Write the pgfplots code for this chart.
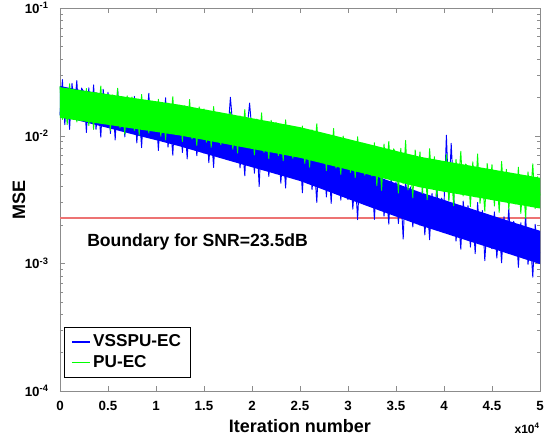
\documentclass[border=0pt]{standalone}
\usepackage{fontspec}
\setmainfont{Liberation Sans}
\usepackage{pgfplots}
\pgfplotsset{compat=1.18}
\usepackage{pgfplotstable}
\definecolor{mblue}{rgb}{0,0,1}
\definecolor{mgreen}{rgb}{0,1,0}
\definecolor{mpink}{rgb}{0.93,0.45,0.45}
\pgfplotstableread{
x y
0 1.45e-2
250 2.75e-2
500 1.22e-2
750 2.16e-2
1000 1.12e-2
1250 2.57e-2
1500 1.62e-2
1750 2.70e-2
2000 1.33e-2
2250 2.36e-2
2500 2.18e-2
2750 1.06e-2
3000 2.37e-2
3250 1.26e-2
3500 2.50e-2
3750 1.12e-2
4000 1.73e-2
4250 9.73e-3
4500 2.31e-2
4750 1.41e-2
5000 2.19e-2
5250 1.04e-2
5500 1.85e-2
5750 9.25e-3
6000 2.32e-2
6250 1.23e-2
6500 2.01e-2
6750 9.79e-3
7000 1.65e-2
7250 1.10e-2
7500 1.04e-2
7750 2.03e-2
8000 8.78e-3
8250 1.56e-2
8500 8.06e-3
8750 1.86e-2
9000 1.17e-2
9250 2.15e-2
9500 9.59e-3
9750 1.70e-2
10000 1.57e-2
10250 7.66e-3
10500 1.72e-2
10750 9.11e-3
11000 1.98e-2
11250 8.12e-3
11500 1.25e-2
11750 7.03e-3
12000 1.67e-2
12250 1.02e-2
12500 1.56e-2
12750 7.38e-3
13000 1.31e-2
13250 6.58e-3
13500 1.65e-2
13750 8.76e-3
14000 1.43e-2
14250 6.96e-3
14500 1.17e-2
14750 7.82e-3
15000 7.30e-3
15250 1.42e-2
15500 6.15e-3
15750 1.09e-2
16000 5.64e-3
16250 1.30e-2
16500 8.20e-3
16750 1.50e-2
17000 6.71e-3
17250 1.19e-2
17500 1.09e-2
17750 2.00e-2
18000 1.18e-2
18250 6.28e-3
18500 1.37e-2
18750 5.59e-3
19000 8.61e-3
19250 4.85e-3
19500 1.15e-2
19750 1.80e-2
20000 1.07e-2
20250 5.08e-3
20500 9.04e-3
20750 4.00e-3
21000 1.14e-2
21250 6.04e-3
21500 9.85e-3
21750 4.80e-3
22000 8.06e-3
22250 5.39e-3
22500 5.03e-3
22750 9.76e-3
23000 4.24e-3
23250 7.54e-3
23500 3.89e-3
23750 8.96e-3
24000 5.65e-3
24250 1.03e-2
24500 4.62e-3
24750 8.22e-3
25000 7.34e-3
25250 3.57e-3
25500 8.00e-3
25750 4.25e-3
26000 9.23e-3
26250 3.78e-3
26500 5.82e-3
26750 3.00e-3
27000 7.77e-3
27250 4.76e-3
27500 7.00e-3
27750 3.31e-3
28000 5.89e-3
28250 2.95e-3
28500 7.42e-3
28750 3.94e-3
29000 6.42e-3
29250 3.13e-3
29500 5.25e-3
29750 3.51e-3
30000 3.16e-3
30250 6.13e-3
30500 2.66e-3
30750 4.73e-3
31000 2.20e-3
31250 5.62e-3
31500 3.55e-3
31750 6.50e-3
32000 2.90e-3
32250 5.16e-3
32500 4.54e-3
32750 2.21e-3
33000 4.94e-3
33250 2.62e-3
33500 5.71e-3
33750 2.34e-3
34000 3.60e-3
34250 2.03e-3
34500 4.80e-3
34750 2.94e-3
35000 4.32e-3
35250 2.05e-3
35500 3.64e-3
35750 1.55e-3
36000 4.58e-3
36250 2.43e-3
36500 3.97e-3
36750 1.93e-3
37000 3.24e-3
37250 2.17e-3
37500 1.99e-3
37750 3.85e-3
38000 1.67e-3
38250 2.97e-3
38500 1.53e-3
38750 3.53e-3
39000 2.23e-3
39250 4.08e-3
39500 1.82e-3
39750 3.24e-3
40000 2.89e-3
40250 1.01e-2
40500 3.16e-3
40750 8.70e-3
41000 3.64e-3
41250 1.49e-3
41500 2.30e-3
41750 1.29e-3
42000 3.07e-3
42250 1.88e-3
42500 2.83e-3
42750 1.34e-3
43000 2.38e-3
43250 1.19e-3
43500 3.00e-3
43750 1.59e-3
44000 2.59e-3
44250 1.05e-3
44500 2.12e-3
44750 1.42e-3
45000 1.30e-3
45250 2.53e-3
45500 1.10e-3
45750 1.95e-3
46000 1.01e-3
46250 2.32e-3
46500 1.46e-3
46750 2.68e-3
47000 1.20e-3
47250 2.13e-3
47500 1.91e-3
47750 9.30e-4
48000 2.08e-3
48250 1.10e-3
48500 2.40e-3
48750 9.80e-4
49000 1.51e-3
49250 7.80e-4
49500 2.02e-3
49750 1.24e-3
50000 1.20e-3
}\bluedata
\pgfplotstableread{
x y
0 2.43e-2
250 1.34e-2
500 2.12e-2
750 1.22e-2
1000 2.55e-2
1250 1.53e-2
1500 2.27e-2
1750 1.28e-2
2000 1.93e-2
2250 1.40e-2
2500 1.38e-2
2750 2.34e-2
3000 1.20e-2
3250 1.90e-2
3500 1.12e-2
3750 2.18e-2
4000 1.51e-2
4250 2.45e-2
4500 1.29e-2
4750 2.04e-2
5000 1.95e-2
5250 1.10e-2
5500 2.09e-2
5750 1.26e-2
6000 2.35e-2
6250 1.15e-2
6500 1.63e-2
6750 1.03e-2
7000 2.05e-2
7250 1.38e-2
7500 2.01e-2
7750 1.10e-2
8000 1.75e-2
8250 1.01e-2
8500 2.10e-2
8750 1.27e-2
9000 1.87e-2
9250 1.05e-2
9500 1.60e-2
9750 1.16e-2
10000 1.14e-2
10250 1.93e-2
10500 9.90e-3
10750 1.57e-2
11000 9.25e-3
11250 1.80e-2
11500 1.25e-2
11750 2.02e-2
12000 1.06e-2
12250 1.68e-2
12500 1.60e-2
12750 9.00e-3
13000 1.72e-2
13250 1.03e-2
13500 1.92e-2
13750 9.42e-3
14000 1.33e-2
14250 8.40e-3
14500 1.68e-2
14750 1.13e-2
15000 1.62e-2
15250 8.90e-3
15500 1.41e-2
15750 8.11e-3
16000 1.69e-2
16250 1.02e-2
16500 1.51e-2
16750 8.49e-3
17000 1.29e-2
17250 9.31e-3
17500 8.99e-3
17750 1.53e-2
18000 7.83e-3
18250 1.24e-2
18500 7.31e-3
18750 1.43e-2
19000 9.86e-3
19250 1.60e-2
19500 8.39e-3
19750 1.33e-2
20000 1.26e-2
20250 7.07e-3
20500 1.35e-2
20750 8.11e-3
21000 1.51e-2
21250 7.40e-3
21500 1.05e-2
21750 6.60e-3
22000 1.32e-2
22250 8.89e-3
22500 1.27e-2
22750 6.98e-3
23000 1.11e-2
23250 6.37e-3
23500 1.33e-2
23750 8.01e-3
24000 1.19e-2
24250 6.66e-3
24500 1.01e-2
24750 7.30e-3
25000 6.98e-3
25250 1.19e-2
25500 6.07e-3
25750 9.63e-3
26000 5.67e-3
26250 1.11e-2
26500 7.65e-3
26750 1.24e-2
27000 6.51e-3
27250 1.03e-2
27500 9.48e-3
27750 5.33e-3
28000 1.02e-2
28250 6.12e-3
28500 1.14e-2
28750 5.58e-3
29000 7.88e-3
29250 4.98e-3
29500 9.92e-3
29750 6.71e-3
30000 9.36e-3
30250 5.15e-3
30500 8.15e-3
30750 4.69e-3
31000 9.80e-3
31250 5.91e-3
31500 8.73e-3
31750 4.91e-3
32000 7.43e-3
32250 5.38e-3
32500 4.83e-3
32750 8.80e-3
33000 4.06e-3
33250 7.23e-3
33500 3.73e-3
33750 8.59e-3
34000 5.42e-3
34250 9.00e-3
34500 4.43e-3
34750 7.88e-3
35000 7.30e-3
35250 3.55e-3
35500 7.95e-3
35750 4.22e-3
36000 9.18e-3
36250 3.76e-3
36500 5.79e-3
36750 3.26e-3
37000 7.73e-3
37250 4.74e-3
37500 7.47e-3
37750 3.53e-3
38000 6.28e-3
38250 3.15e-3
38500 7.91e-3
38750 4.20e-3
39000 6.85e-3
39250 3.33e-3
39500 5.60e-3
39750 3.74e-3
40000 3.67e-3
40250 7.11e-3
40500 3.09e-3
40750 5.49e-3
41000 2.83e-3
41250 6.53e-3
41500 4.12e-3
41750 7.54e-3
42000 3.37e-3
42250 5.99e-3
42500 5.72e-3
42750 2.78e-3
43000 6.24e-3
43250 3.31e-3
43500 7.20e-3
43750 2.95e-3
44000 4.54e-3
44250 2.56e-3
44500 6.06e-3
44750 3.72e-3
45000 5.94e-3
45250 2.81e-3
45500 5.00e-3
45750 2.51e-3
46000 6.29e-3
46250 3.34e-3
46500 5.45e-3
46750 2.65e-3
47000 4.45e-3
47250 2.98e-3
47500 2.92e-3
47750 5.67e-3
48000 2.46e-3
48250 4.38e-3
48500 2.26e-3
48750 5.20e-3
49000 3.28e-3
49250 6.01e-3
49500 2.68e-3
49750 4.77e-3
50000 3.40e-3
}\greendata
\begin{document}
\begin{tikzpicture}
\begin{axis}[
  scale only axis, width=360pt, height=287.25pt,
  ymode=log, xmin=0, xmax=50000, ymin=1e-4, ymax=1e-1,
  clip=false,
  scaled x ticks=false,
  axis line style={draw=black!45},
  tick style={draw=black!45},
  tick align=inside,
  major tick length=3.6pt, minor tick length=2pt,
  xtick={0,5000,10000,15000,20000,25000,30000,35000,40000,45000,50000},
  xticklabels={0,0.5,1,1.5,2,2.5,3,3.5,4,4.5,5},
  ytick={1e-4,1e-3,1e-2,1e-1},
  yticklabels={10\textsuperscript{-4},10\textsuperscript{-3},10\textsuperscript{-2},10\textsuperscript{-1}},
  minor ytick={2e-4,3e-4,4e-4,5e-4,6e-4,7e-4,8e-4,9e-4,2e-3,3e-3,4e-3,5e-3,6e-3,7e-3,8e-3,9e-3,2e-2,3e-2,4e-2,5e-2,6e-2,7e-2,8e-2,9e-2},
  ticklabel style={font=\fontsize{10}{12}\selectfont\bfseries},
  xticklabel style={yshift=-4pt},
  yticklabel style={xshift=-5pt},
  xlabel={Iteration number},
  ylabel={MSE},
  xlabel style={font=\fontsize{13.5}{16}\selectfont\bfseries, at={(axis description cs:0.5,-0.0914)}, anchor=center},
  ylabel style={font=\fontsize{13.5}{16}\selectfont\bfseries, at={(axis description cs:-0.0854,0.5)}, anchor=center},
  legend style={at={(axis description cs:0.0083,0.034)}, anchor=south west, draw=black, line width=0.6pt, font=\fontsize{12.9}{15.5}\selectfont\bfseries, inner xsep=5pt, inner ysep=4pt, row sep=1pt},
  legend cell align=left,
  legend image code/.code={\draw[#1, line width=1.2pt] (0.05cm,0cm) -- (0.52cm,0cm);},
]
\addplot[draw=mpink, line width=1pt, forget plot] coordinates {(0,2.27e-3) (50000,2.27e-3)};
% blue solid core of the noisy band
\addplot[fill=mblue, draw=none, forget plot] coordinates {
(0,2.45e-2) (2500,2.25e-2) (5000,2.10e-2) (7500,1.870e-2) (10000,1.678e-2) (12500,1.499e-2) (15000,1.321e-2) (17500,1.166e-2) (20000,1.030e-2) (22500,9.10e-3) (25000,8.03e-3) (27500,6.83e-3) (30000,5.82e-3) (32500,4.96e-3) (35000,4.23e-3) (37500,3.61e-3) (40000,3.14e-3) (42500,2.73e-3) (45000,2.37e-3) (47500,2.06e-3) (50000,1.80e-3)
(50000,9.87e-4) (47500,1.136e-3) (45000,1.308e-3) (42500,1.50e-3) (40000,1.726e-3) (37500,1.983e-3) (35000,2.326e-3) (32500,2.723e-3) (30000,3.195e-3) (27500,3.763e-3) (25000,4.417e-3) (22500,5.006e-3) (20000,5.660e-3) (17500,6.411e-3) (15000,7.268e-3) (12500,8.244e-3) (10000,9.230e-3) (7500,1.028e-2) (5000,1.149e-2) (2500,1.280e-2) (0,1.427e-2)} -- cycle;
\addplot[color=mblue, line width=0.7pt, line join=round] table[x=x,y=y] {\bluedata};
\addlegendentry{VSSPU-EC}
% green solid core of the noisy band
\addplot[fill=mgreen, draw=none, forget plot] coordinates {
(0,2.399e-2) (2500,2.249e-2) (5000,2.113e-2) (7500,1.982e-2) (10000,1.862e-2) (12500,1.746e-2) (15000,1.610e-2) (17500,1.486e-2) (20000,1.370e-2) (22500,1.265e-2) (25000,1.167e-2) (27500,1.050e-2) (30000,9.42e-3) (32500,8.47e-3) (35000,7.60e-3) (37500,6.84e-3) (40000,6.33e-3) (42500,5.87e-3) (45000,5.44e-3) (47500,5.05e-3) (50000,4.68e-3)
(50000,2.69e-3) (47500,2.90e-3) (45000,3.13e-3) (42500,3.38e-3) (40000,3.64e-3) (37500,3.94e-3) (35000,4.38e-3) (32500,4.88e-3) (30000,5.42e-3) (27500,6.03e-3) (25000,6.71e-3) (22500,7.28e-3) (20000,7.88e-3) (17500,8.54e-3) (15000,9.27e-3) (12500,1.004e-2) (10000,1.071e-2) (7500,1.140e-2) (5000,1.217e-2) (2500,1.294e-2) (0,1.380e-2)} -- cycle;
\addplot[color=mgreen, line width=0.7pt, line join=round] table[x=x,y=y] {\greendata};
\addlegendentry{PU-EC}
\node[anchor=west, inner sep=0pt, font=\fontsize{13.2}{16}\selectfont\bfseries] at (axis cs:2812,1.47e-3) {Boundary for SNR=23.5dB};
\node[anchor=east, inner sep=0pt, font=\fontsize{9}{11}\selectfont\bfseries] at (axis description cs:1,-0.0966) {x10\textsuperscript{4}};
\end{axis}
\pgfresetboundingbox
\path[use as bounding box] (-45pt,-39.75pt) rectangle (366pt,293.25pt);
\end{tikzpicture}
\end{document}
